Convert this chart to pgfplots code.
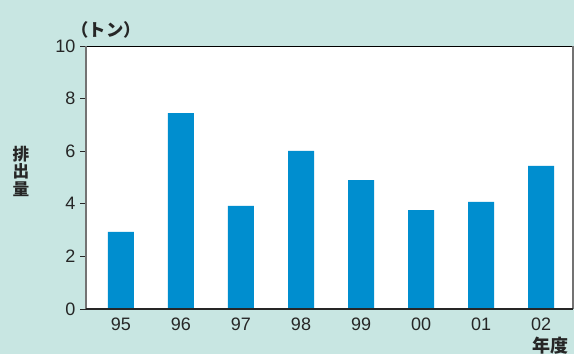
\documentclass[border=0pt]{standalone}
\usepackage{fontspec}
\setmainfont{Liberation Sans}
\newfontfamily\jp{Noto Sans CJK JP}
\usepackage{pgfplots}
\pgfplotsset{compat=1.18}
\definecolor{bgteal}{RGB}{200,230,226}
\definecolor{barblue}{RGB}{0,142,207}
\definecolor{txt}{RGB}{38,38,38}
\begin{document}
\begin{tikzpicture}
\path[use as bounding box, fill=bgteal] (0,0) rectangle (430.5pt,265.5pt);
\begin{axis}[
  at={(64.5pt,33.75pt)}, anchor=south west,
  scale only axis, width=365.25pt, height=197.25pt,
  axis background/.style={fill=white},
  axis line style={draw=none},
  clip=false,
  xmin=-0.583, xmax=7.533,
  ymin=0, ymax=10,
  ytick={0,2,4,6,8,10},
  xtick=data,
  xticklabels={95,96,97,98,99,00,01,02},
  ytick pos=left,
  tick align=outside,
  major tick length=4.5pt,
  ytick style={draw=txt, line width=0.6pt},
  xtick style={draw=none},
  xticklabel style={yshift=1.5pt},
  /pgf/number format/assume math mode=true,
  ticklabel style={font=\fontsize{13.5}{14}\selectfont, text=txt},
]
\addplot[ybar, bar width=19.5pt, fill=barblue, draw=none]
  coordinates {(0,2.93) (1,7.45) (2,3.92) (3,6.01) (4,4.90) (5,3.76) (6,4.07) (7,5.44)};
\draw[black, line width=0.7pt] (rel axis cs:0,1) -- (rel axis cs:1,1);
\draw[black!55, line width=1.3pt] (rel axis cs:0,0) -- (rel axis cs:0,1);
\draw[black!55, line width=1pt] (rel axis cs:1,0) -- (rel axis cs:1,1);
\draw[txt, line width=0.8pt] (rel axis cs:0,0) -- (rel axis cs:1,0);
\end{axis}
\node[text=txt, font=\jp\bfseries\fontsize{13}{14}\selectfont] at (79.5pt,243pt) {（トン）};
\node[text=txt, font=\jp\bfseries\fontsize{12.5}{13.2}\selectfont, align=center, inner sep=0pt] at (15.75pt,137pt) {排\\出\\量};
\node[text=txt, font=\jp\bfseries\fontsize{13.5}{14}\selectfont] at (412.5pt,6pt) {年度};
\end{tikzpicture}
\end{document}
